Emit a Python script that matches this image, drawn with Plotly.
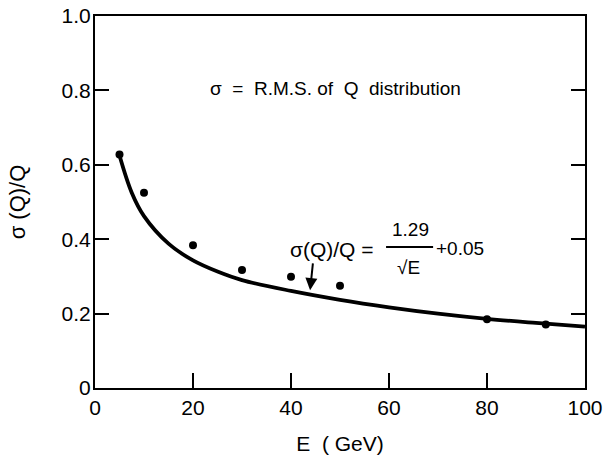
import plotly.graph_objects as go

# Measured data points
E_points = [5, 10, 20, 30, 40, 50, 80, 92]
sig_points = [0.628, 0.525, 0.384, 0.317, 0.299, 0.275, 0.185, 0.171]

# Fitted curve
E_curve = [5, 7.5, 10, 15, 20, 25, 30, 40, 50, 60, 70, 80, 90, 100]
sig_curve = [0.625, 0.525, 0.462, 0.388, 0.343, 0.313, 0.29, 0.261, 0.237, 0.217, 0.200, 0.186, 0.175, 0.165]

x_ticks = [0, 20, 40, 60, 80, 100]
x_ticklabels = ["0", "20", "40", "60", "80", "100"]
y_ticks = [0, 0.2, 0.4, 0.6, 0.8, 1.0]
y_ticklabels = ["0", "0.2", "0.4", "0.6", "0.8", "1.0"]

FONT = "Liberation Sans, Arial, sans-serif"

fig = go.Figure()
fig.add_trace(go.Scatter(x=E_curve, y=sig_curve, mode="lines",
                         line=dict(color="black", width=3.8, shape="spline", smoothing=1.0),
                         showlegend=False, hoverinfo="skip"))
fig.add_trace(go.Scatter(x=E_points, y=sig_points, mode="markers",
                         marker=dict(color="black", size=8),
                         showlegend=False))

fig.update_layout(
    width=607, height=457,
    margin=dict(l=95, r=22, t=16, b=69),
    paper_bgcolor="white", plot_bgcolor="white",
    font=dict(family=FONT, color="black", size=20),
    xaxis=dict(range=[0, 100], tickvals=x_ticks, ticktext=x_ticklabels,
               ticks="inside", ticklen=15, tickwidth=1.5, tickcolor="black",
               showline=True, linecolor="black", linewidth=2, mirror=True,
               showgrid=False, zeroline=False, automargin=False,
               tickfont=dict(size=21),
               title=dict(text="E  ( GeV)", font=dict(size=21), standoff=18)),
    yaxis=dict(range=[0, 1.0], tickvals=y_ticks, ticktext=y_ticklabels,
               ticks="inside", ticklen=14, tickwidth=1.5, tickcolor="black",
               showline=True, linecolor="black", linewidth=2, mirror="ticks",
               showgrid=False, zeroline=False, automargin=False,
               ticklabelstandoff=-2,
               tickfont=dict(size=21),
               title=dict(text="σ (Q)/Q", font=dict(size=22), standoff=30)),
)

# Annotations
fig.add_annotation(x=23.1, y=0.804, xref="x", yref="y", xanchor="left", yanchor="middle",
                   text="σ  =  R.M.S. of  Q  distribution", showarrow=False,
                   font=dict(size=19))
fig.add_annotation(x=39.4, y=0.371, xref="x", yref="y", xanchor="left", yanchor="middle",
                   text="σ(Q)/Q =", showarrow=False, font=dict(size=21))
fig.add_annotation(x=64.3, y=0.425, xref="x", yref="y", xanchor="center", yanchor="middle",
                   text="1.29", showarrow=False, font=dict(size=19))
fig.add_shape(type="line", x0=59.4, x1=69.0, y0=0.379, y1=0.379, xref="x", yref="y",
              line=dict(color="black", width=2))
fig.add_annotation(x=63.9, y=0.323, xref="x", yref="y", xanchor="center", yanchor="middle",
                   text="√E", showarrow=False, font=dict(size=19))
fig.add_annotation(x=69.2, y=0.376, xref="x", yref="y", xanchor="left", yanchor="middle",
                   text="+0.05", showarrow=False, font=dict(size=19))
fig.add_annotation(x=43.9, y=0.263, ax=44.5, ay=0.339, xref="x", yref="y",
                   axref="x", ayref="y", text="", showarrow=True,
                   arrowhead=2, arrowsize=1.2, arrowwidth=2, arrowcolor="black")

fig.write_html("out.html", config={"displayModeBar": False},
               post_script="document.body.style.margin='0px';")
